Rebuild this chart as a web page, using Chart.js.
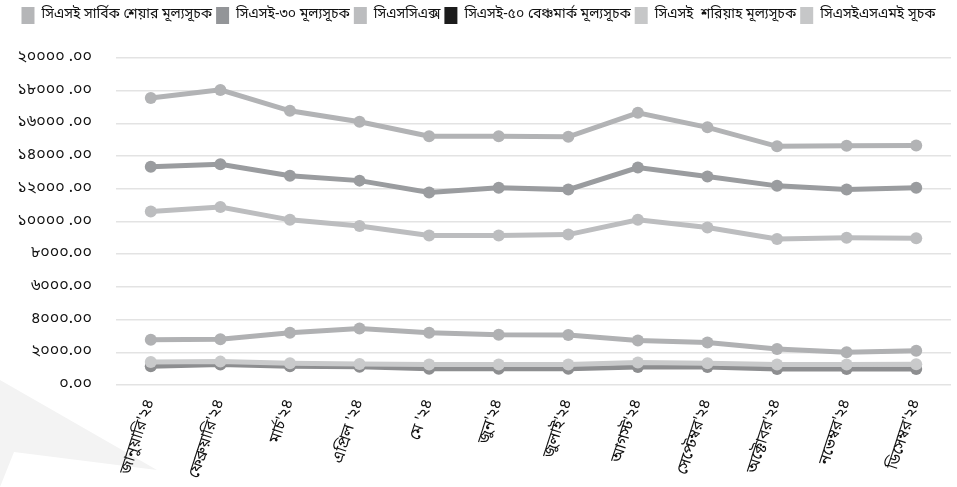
<!DOCTYPE html>
<html>
<head>
<meta charset="utf-8">
<script src="https://cdn.jsdelivr.net/npm/chart.js@4.4.1/dist/chart.umd.min.js"></script>
<style>
html,body{margin:0;padding:0;background:#fff;}
#wrap{width:957px;height:487px;position:relative;}
</style>
</head>
<body>
<div id="wrap"><canvas id="c"></canvas></div>
<script>
const months = ["জানুয়ারি'২৪","ফেব্রুয়ারি'২৪","মার্চ'২৪","এপ্রিল '২৪","মে '২৪","জুন'২৪","জুলাই'২৪","আগস্ট'২৪","সেপ্টেম্বর'২৪","অক্টোবর'২৪","নভেম্বর'২৪","ডিসেম্বর'২৪"];
const seriesNames = ["সিএসই সার্বিক শেয়ার মূল্যসূচক","সিএসই-৩০ মূল্যসূচক","সিএসসিএক্স","সিএসই-৫০ বেঞ্চমার্ক মূল্যসূচক","সিএসই  শরিয়াহ মূল্যসূচক","সিএসইএসএমই সূচক"];
const caspi   = [17560,18050,16770,16100,15210,15210,15180,16650,15760,14600,14630,14650];
const cse30   = [13350,13500,12800,12500,11770,12070,11950,13300,12750,12180,11950,12060];
const cscx    = [10610,10880,10100,9720,9150,9150,9200,10100,9630,8930,9000,8980];
const cse50   = [1150,1250,1150,1120,1000,1000,990,1100,1100,980,980,980];
const shariah = [1400,1430,1330,1280,1250,1250,1250,1380,1330,1250,1260,1270];
const csesme  = [2770,2800,3200,3450,3200,3070,3060,2720,2600,2200,2000,2100];
const yTickLabels = ["০.০০","২০০০.০০","৪০০০.০০","৬০০০.০০","৮০০০.০০","১০০০০ .০০","১২০০০ .০০","১৪০০০ .০০","১৬০০০ .০০","১৮০০০ .০০","২০০০০ .০০"];

const lineColors = ["#b2b3b5","#9a9c9f","#bcbdbf","#8d8e90","#c9cacb","#b0b1b3"];
const legendColors = ["#b5b6b8","#939598","#bcbdbf","#1c1c1c","#c6c7c8","#c6c7c8"];
const FONT = "'Noto Sans Bengali','Lohit Bengali','Noto Serif Bengali','FreeSans','Noto Sans',sans-serif";

const seriesData = [caspi, cse30, cscx, cse50, shariah, csesme];
const drawOrder = [0,1,2,5,4,3];

const watermark = {
  id:'watermark',
  beforeDraw(chart){
    const ctx = chart.ctx;
    ctx.save();
    ctx.fillStyle = '#f3f3f3';
    ctx.beginPath();
    ctx.moveTo(0,380);
    ctx.lineTo(157,470);
    ctx.lineTo(14,452);
    ctx.lineTo(0,487);
    ctx.closePath();
    ctx.fill();
    ctx.restore();
  }
};

const legendSpace = {
  id:'legendSpace',
  beforeInit(chart){
    const orig = chart.legend.fit;
    chart.legend.fit = function(){
      orig.call(this);
      this.height += 24;
    };
  }
};

new Chart(document.getElementById('c'), {
  type:'line',
  data:{
    labels: months,
    datasets: seriesNames.map((n,i)=>({
      label:n,
      data:seriesData[i],
      borderColor:lineColors[i],
      backgroundColor:lineColors[i],
      pointBackgroundColor:lineColors[i],
      pointBorderWidth:0,
      pointRadius:6,
      borderWidth:5,
      tension:0,
      order: drawOrder[i]
    }))
  },
  options:{
    responsive:true,
    maintainAspectRatio:false,
    animation:false,
    layout:{padding:{top:3,right:0,left:0,bottom:0}},
    plugins:{
      tooltip:{enabled:false},
      legend:{
        position:'top',
        labels:{
          font:{family:FONT,size:14},
          color:'#111',
          boxWidth:13,
          boxHeight:17,
          padding:4,
          generateLabels(chart){
            return chart.data.datasets.map((d,i)=>({
              text:d.label,
              fillStyle:legendColors[i],
              strokeStyle:legendColors[i],
              lineWidth:0,
              hidden:false,
              datasetIndex:i,
              fontColor:'#111'
            }));
          }
        }
      }
    },
    scales:{
      x:{
        offset:true,
        grid:{display:false},
        border:{display:false},
        ticks:{
          font:{family:FONT,size:16},
          color:'#111',
          minRotation:72,
          maxRotation:72,
          padding:4,
          autoSkip:false
        },
        afterFit(s){ s.height = 102; }
      },
      y:{
        min:0,max:20000,
        border:{display:false},
        grid:{color:'#e3e3e3',lineWidth:1.5,drawTicks:false},
        ticks:{
          stepSize:2000,
          font:{family:FONT,size:16},
          color:'#111',
          padding:24,
          callback:(v,i)=>yTickLabels[i]
        },
        afterFit(s){ s.width = 116; }
      }
    }
  },
  plugins:[watermark, legendSpace]
});
</script>
</body>
</html>
